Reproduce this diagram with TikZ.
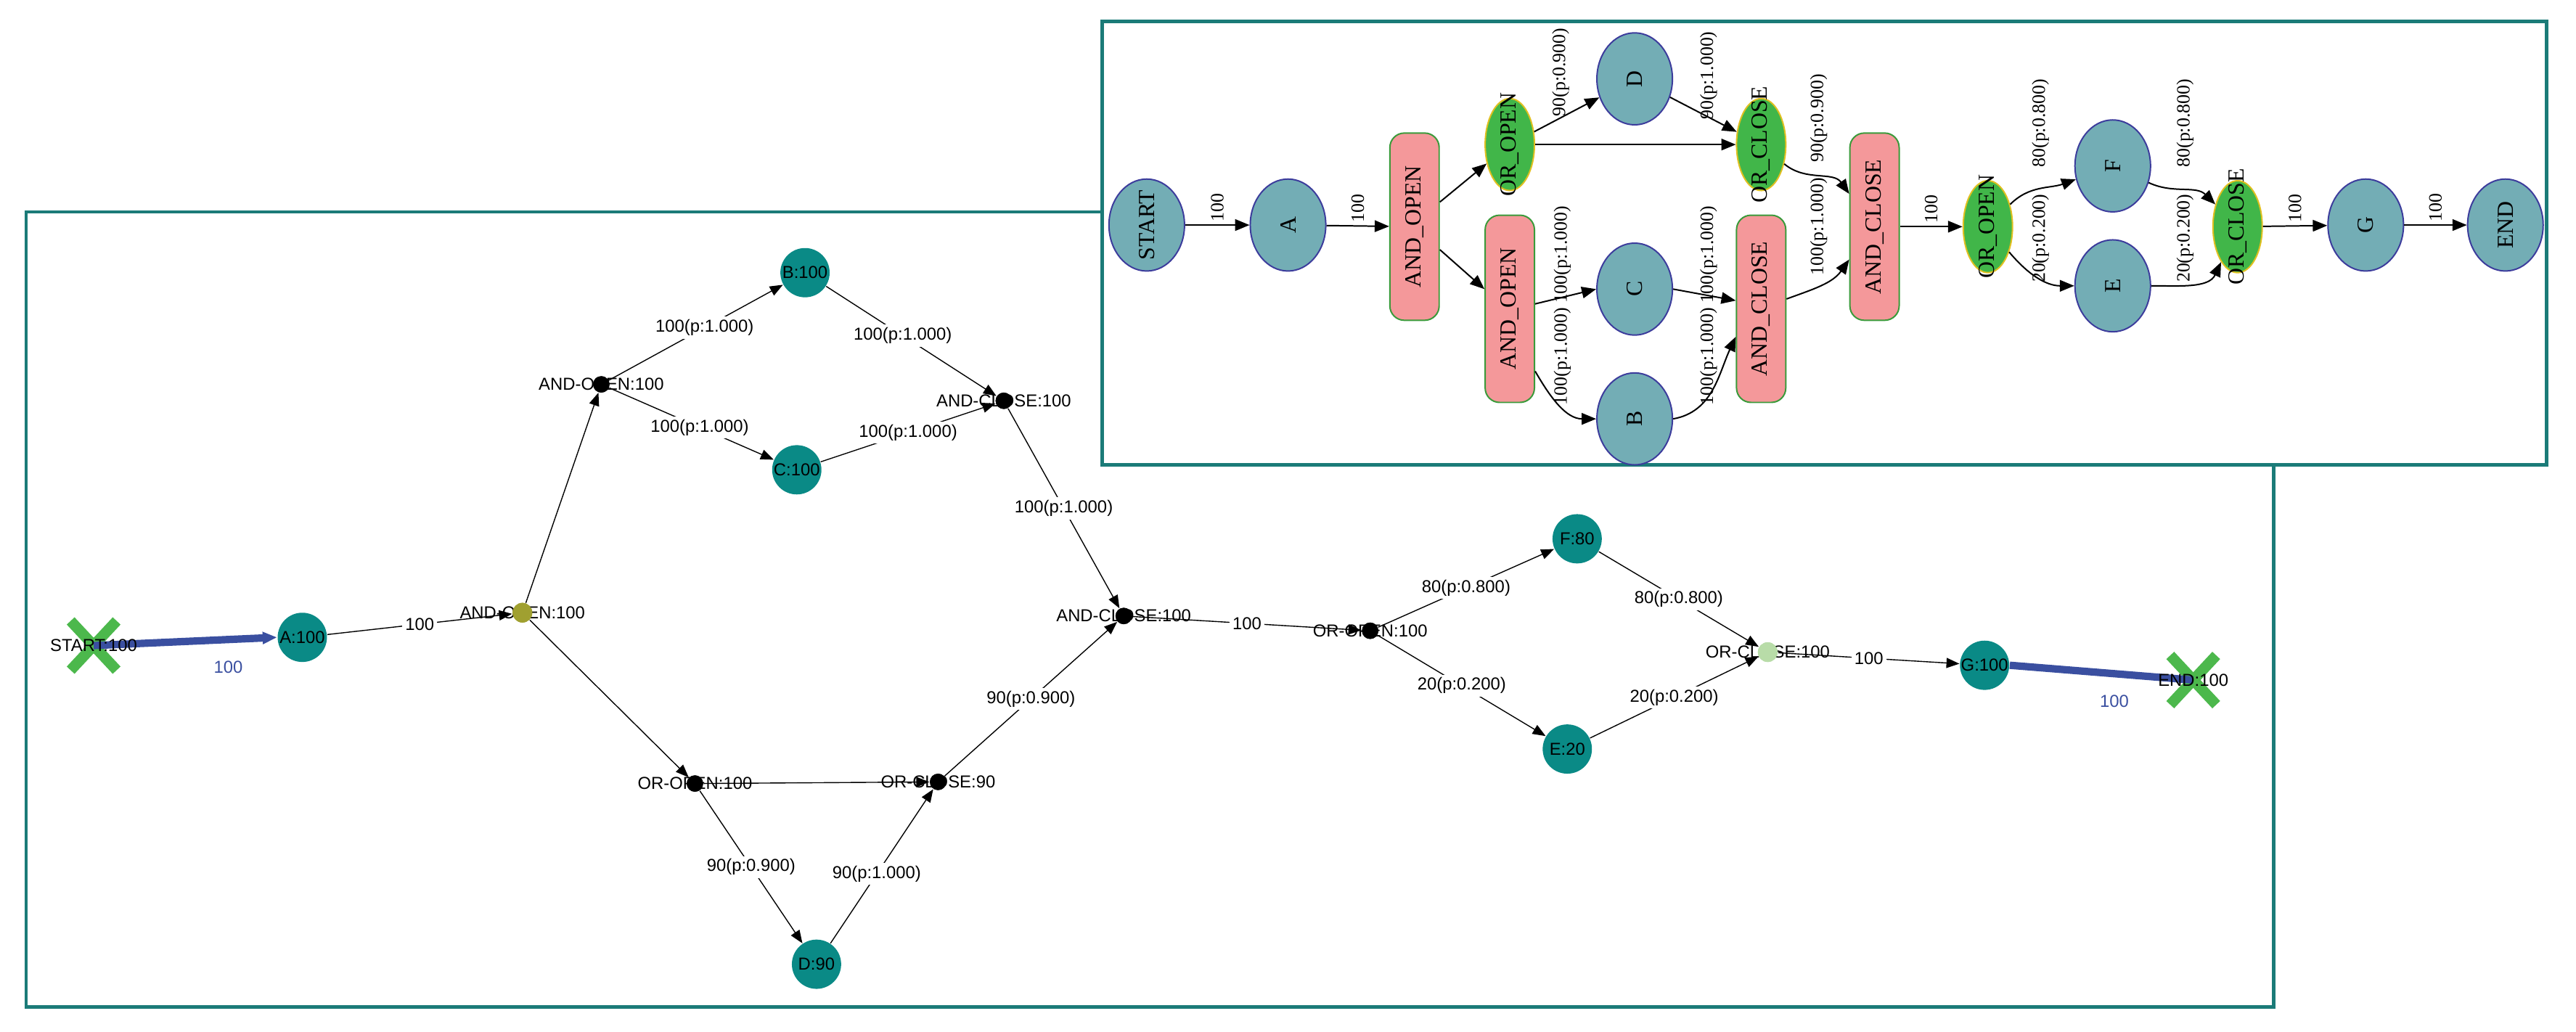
\documentclass[tikz,border=0pt]{standalone}
\usepackage{fontspec}
\setmainfont{Liberation Serif}
\newfontfamily\bsans{Liberation Sans}
\usetikzlibrary{arrows.meta,shapes.geometric}
\definecolor{frame}{HTML}{1B7B78}
\definecolor{tnode}{HTML}{73ADB5}
\definecolor{tborder}{HTML}{3C3C9C}
\definecolor{andfill}{HTML}{F4989A}
\definecolor{andborder}{HTML}{3A9A3A}
\definecolor{orfill}{HTML}{41B649}
\definecolor{orborder}{HTML}{E0C020}
\definecolor{bteal}{HTML}{0A8A86}
\definecolor{olive}{HTML}{A0A030}
\definecolor{lgreen}{HTML}{B8DCA8}
\definecolor{bblue}{HTML}{3A4FA0}
\definecolor{xgreen}{HTML}{4CB84C}
\tikzset{
  tarr/.style={-{Triangle[length=5pt,width=4pt]},line width=0.5pt},
  barr/.style={-{Triangle[length=4.5pt,width=3.5pt]},line width=0.35pt},
  ttxt/.style={rotate=90,inner sep=0pt,font=\fontsize{8}{9}\selectfont},
  tn/.style={ellipse,draw=tborder,fill=tnode,line width=0.5pt,minimum width=0.92cm,minimum height=1.12cm,inner sep=0pt,label={[ttxt]center:#1}},
  andn/.style={rectangle,rounded corners=5pt,draw=andborder,fill=andfill,line width=0.5pt,minimum width=0.6cm,minimum height=2.28cm,inner sep=0pt,label={[ttxt]center:#1}},
  orn/.style={ellipse,draw=orborder,fill=orfill,line width=0.5pt,minimum width=0.6cm,minimum height=1.12cm,inner sep=0pt,label={[ttxt]center:#1}},
  tl/.style={rotate=90,anchor=west,inner sep=1pt,font=\fontsize{6.5}{7}\selectfont},
  tlc/.style={rotate=90,inner sep=0pt,font=\fontsize{6.5}{7}\selectfont},
  bn/.style={circle,fill=bteal,minimum size=0.6cm,inner sep=0pt},
  dot/.style={circle,fill=black,minimum size=0.2cm,inner sep=0pt},
  bt/.style={font=\bsans\fontsize{6}{7}\selectfont,inner sep=0pt},
  bl/.style={font=\bsans\fontsize{6}{7}\selectfont,fill=white,inner sep=1pt},
  fr/.style={draw=frame,line width=0.04cm}
}
\begin{document}
\begin{tikzpicture}[x=0.02cm,y=-0.02cm]
\useasboundingbox (0,0) rectangle (1568,628);
% bottom frame
\draw[fr] (16,129) rectangle (1384,613);
% ---------- bottom graph ----------
\coordinate (S) at (57,393);
\coordinate (EN) at (1335,414);
\node[bn] (A) at (184,388) {};
\node[circle,fill=olive,minimum size=0.24cm,inner sep=0pt] (AO) at (318,373) {};
\node[dot] (AO2) at (366,234) {};
\node[bn] (B) at (490,166) {};
\node[bn] (C) at (485,286) {};
\node[dot] (AC) at (611,244) {};
\node[dot] (AC2) at (684,375) {};
\node[dot] (OO) at (423,477) {};
\node[dot] (OC) at (571,476) {};
\node[bn] (D) at (497,587) {};
\node[dot] (OO2) at (834,384) {};
\node[bn] (F) at (960,328) {};
\node[bn] (E) at (954,456) {};
\node[circle,fill=lgreen,minimum size=0.24cm,inner sep=0pt] (OC2) at (1076,397) {};
\node[bn] (G) at (1208,405) {};
\draw[xgreen,line width=0.13cm] ([shift={(-14,-15)}]S) -- ([shift={(14,15)}]S);
\draw[xgreen,line width=0.13cm] ([shift={(-14,15)}]S) -- ([shift={(14,-15)}]S);
\draw[xgreen,line width=0.13cm] ([shift={(-14,-15)}]EN) -- ([shift={(14,15)}]EN);
\draw[xgreen,line width=0.13cm] ([shift={(-14,15)}]EN) -- ([shift={(14,-15)}]EN);
\draw[bblue,line width=0.09cm,-{Triangle[length=5pt,width=4pt]}] (S) -- (A.west);
\draw[bblue,line width=0.09cm] (G.east) -- (EN);
\node[bt,text=bblue] at (139,406) {100};
\node[bt,text=bblue] at (1287,427) {100};
\draw[barr] (A) -- node[bl]{100} (AO);
\draw[barr] (AO) -- (AO2);
\draw[barr] (AO2) -- node[bl,pos=0.55]{100(p:1.000)} (B);
\draw[barr] (AO2) -- node[bl,pos=0.55]{100(p:1.000)} (C);
\draw[barr] (B) -- node[bl,pos=0.45]{100(p:1.000)} (AC);
\draw[barr] (C) -- node[bl,pos=0.5]{100(p:1.000)} (AC);
\draw[barr] (AC) -- node[bl,pos=0.5]{100(p:1.000)} (AC2);
\draw[barr] (AO) -- (OO);
\draw[barr] (OO) -- (OC);
\draw[barr] (OO) -- node[bl,pos=0.5]{90(p:0.900)} (D);
\draw[barr] (D) -- node[bl,pos=0.45]{90(p:1.000)} (OC);
\draw[barr] (OC) -- node[bl,pos=0.5]{90(p:0.900)} (AC2);
\draw[barr] (AC2) -- node[bl,pos=0.5]{100} (OO2);
\draw[barr] (OO2) -- node[bl,pos=0.5]{80(p:0.800)} (F);
\draw[barr] (OO2) -- node[bl,pos=0.5]{20(p:0.200)} (E);
\draw[barr] (F) -- node[bl,pos=0.5]{80(p:0.800)} (OC2);
\draw[barr] (E) -- node[bl,pos=0.5]{20(p:0.200)} (OC2);
\draw[barr] (OC2) -- node[bl,pos=0.5]{100} (G);
\node[bt] at (S) {START:100};
\node[bt] at (A) {A:100};
\node[bt] at (AO) {AND-OPEN:100};
\node[bt] at (AO2) {AND-OPEN:100};
\node[bt] at (B) {B:100};
\node[bt] at (C) {C:100};
\node[bt] at (AC) {AND-CLOSE:100};
\node[bt] at (AC2) {AND-CLOSE:100};
\node[bt] at (OO) {OR-OPEN:100};
\node[bt] at (OC) {OR-CLOSE:90};
\node[bt] at (D) {D:90};
\node[bt] at (OO2) {OR-OPEN:100};
\node[bt] at (F) {F:80};
\node[bt] at (E) {E:20};
\node[bt] at (OC2) {OR-CLOSE:100};
\node[bt] at (G) {G:100};
\node[bt] at (EN) {END:100};
% dots on top of text
\fill[black] (AO2) circle (5);
\fill[black] (AC) circle (5);
\fill[black] (AC2) circle (5);
\fill[black] (OO) circle (5);
\fill[black] (OC) circle (5);
\fill[black] (OO2) circle (5);
\fill[olive] (AO) circle (6);
\fill[lgreen] (OC2) circle (6);
% ---------- top frame ----------
\draw[fr,fill=white] (671,13) rectangle (1550,283);
\node[tn=START] (tS) at (698,137) {};
\node[tn=A] (tA) at (784,137) {};
\node[andn=AND\_OPEN] (tAO) at (861,138) {};
\node[orn=OR\_OPEN] (tOO) at (919,88) {};
\node[andn=AND\_OPEN] (tAO2) at (919,188) {};
\node[tn=D] (tD) at (995,48) {};
\node[tn=C] (tC) at (995,176) {};
\node[tn=B] (tB) at (995,255) {};
\node[orn=OR\_CLOSE] (tOC) at (1072,88) {};
\node[andn=AND\_CLOSE] (tAC) at (1072,188) {};
\node[andn=AND\_CLOSE] (tAC2) at (1141,138) {};
\node[orn=OR\_OPEN] (tOO2) at (1210,138) {};
\node[tn=F] (tF) at (1286,101) {};
\node[tn=E] (tE) at (1286,174) {};
\node[orn=OR\_CLOSE] (tOC2) at (1362,138) {};
\node[tn=G] (tG) at (1440,137) {};
\node[tn=END] (tEN) at (1525,137) {};
\draw[tarr] (tS) -- node[tl]{100} (tA);
\draw[tarr] (tA) -- node[tl]{100} (tAO);
\draw[tarr] ([shift={(0,-15)}]tAO.east) -- (tOO);
\draw[tarr] ([shift={(0,14)}]tAO.east) -- ([shift={(0,-12)}]tAO2.west);
\draw[tarr] (tOO) -- (tD);
\draw[tarr] (tOO.east) -- (tOC.west);
\draw[tarr] (tD) -- (tOC);
\draw[tarr] ([shift={(0,-3)}]tAO2.east) -- (tC.west);
\draw[tarr] ([shift={(0,38)}]tAO2.east) to[out=-60,in=180] (tB.west);
\draw[tarr] (tC.east) -- ([shift={(0,-5)}]tAC.west);
\draw[tarr] (tB.east) to[out=10,in=-115] ([shift={(0,17)}]tAC.west);
\draw[tarr] (tOC) to[out=-40,in=125] ([shift={(0,-20)}]tAC2.west);
\draw[tarr] ([shift={(0,-6)}]tAC.east) to[out=20,in=-125] ([shift={(0,20)}]tAC2.west);
\draw[tarr] (tAC2) -- node[tl]{100} (tOO2);
\draw[tarr] (tOO2) to[out=45,in=200] (tF);
\draw[tarr] (tOO2) to[out=-50,in=180] (tE);
\draw[tarr] (tF) to[out=-25,in=135] (tOC2);
\draw[tarr] (tE.east) to[out=0,in=-115] (tOC2);
\draw[tarr] (tOC2) -- node[tl]{100} (tG);
\draw[tarr] (tG) -- node[tl]{100} (tEN);
% top edge labels
\node[tlc] at (950,44) {90(p:0.900)};
\node[tlc] at (1040,46) {90(p:1.000)};
\node[tlc] at (951,155) {100(p:1.000)};
\node[tlc] at (951,217) {100(p:1.000)};
\node[tlc] at (1040,155) {100(p:1.000)};
\node[tlc] at (1040,217) {100(p:1.000)};
\node[tlc] at (1107,72) {90(p:0.900)};
\node[tlc] at (1107,138) {100(p:1.000)};
\node[tlc] at (1242,75) {80(p:0.800)};
\node[tlc] at (1242,145) {20(p:0.200)};
\node[tlc] at (1330,75) {80(p:0.800)};
\node[tlc] at (1330,145) {20(p:0.200)};
\end{tikzpicture}
\end{document}
